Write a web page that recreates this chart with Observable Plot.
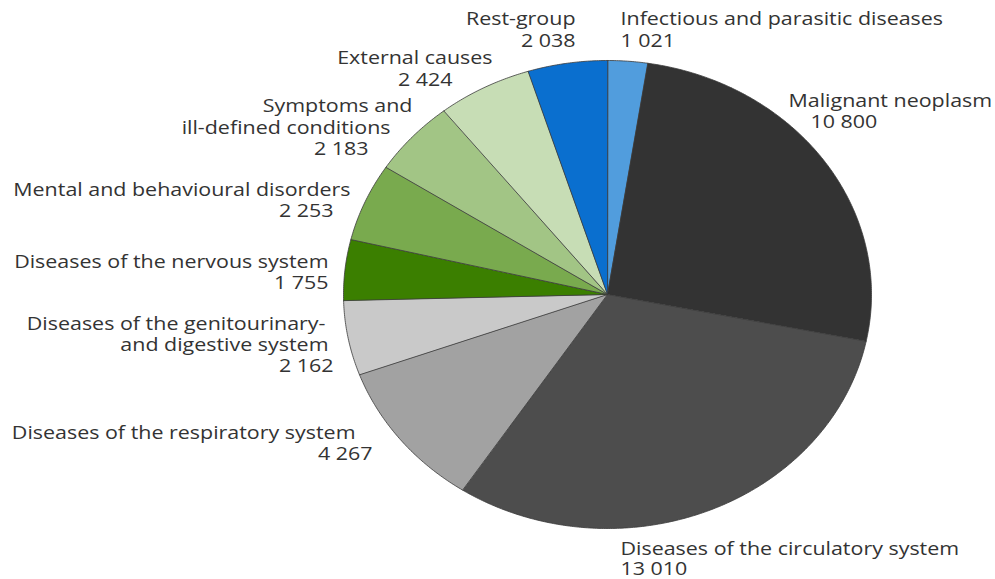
<!DOCTYPE html>
<html><head><meta charset="utf-8">
<script src="https://cdn.jsdelivr.net/npm/d3@7"></script>
<script src="https://cdn.jsdelivr.net/npm/@observablehq/plot@0.6"></script>
<style>body{margin:0;background:#fff;}</style>
</head><body><div id="chart"></div>
<script>
// ---- data ----
const categories = [
  "Infectious and parasitic diseases",
  "Malignant neoplasm",
  "Diseases of the circulatory system",
  "Diseases of the respiratory system",
  "Diseases of the genitourinary- and digestive system",
  "Diseases of the nervous system",
  "Mental and behavioural disorders",
  "Symptoms and ill-defined conditions",
  "External causes",
  "Rest-group"
];
const values = [1021, 10800, 13010, 4267, 2162, 1755, 2253, 2183, 2424, 2038];
const colors = ["#519ddd", "#333333", "#4d4d4d", "#a2a2a2", "#c9c9c9",
                "#3b7f00", "#79aa4e", "#a2c585", "#c7ddb5", "#0a6fcf"];
const labelText = [
  ["Infectious and parasitic diseases"],
  ["Malignant neoplasm"],
  ["Diseases of the circulatory system"],
  ["Diseases of the respiratory system"],
  ["Diseases of the genitourinary-", "and digestive system"],
  ["Diseases of the nervous system"],
  ["Mental and behavioural disorders"],
  ["Symptoms and", "ill-defined conditions"],
  ["External causes"],
  ["Rest-group"]
];

// ---- layout (label placement, pixels) ----
const cx = 607, cy = 294, rx = 264, ry = 234;
const stretch = rx / ry; // the chart is stretched horizontally
const labelLayout = [
  {anchor: "start", pos: [[620, 18], [620, 40]]},
  {anchor: "start", pos: [[788, 100], [810, 121]]},
  {anchor: "start", pos: [[620, 548], [620, 568]]},
  {anchor: "end",   pos: [[355, 432], [372, 453]]},
  {anchor: "end",   pos: [[325, 323], [328, 344], [333, 365]]},
  {anchor: "end",   pos: [[328, 261], [328, 282]]},
  {anchor: "end",   pos: [[350, 189], [333, 210]]},
  {anchor: "end",   pos: [[412, 105], [390, 127], [368, 148]]},
  {anchor: "end",   pos: [[492, 57], [452, 79]]},
  {anchor: "end",   pos: [[575, 18], [575, 40]]}
];

const fmt = v => d3.format(",")(v).replace(/,/g, "\u00a0");
const total = d3.sum(values);
let acc = 0;
const slices = categories.map((c, i) => {
  const a0 = acc / total * 2 * Math.PI;
  acc += values[i];
  const a1 = acc / total * 2 * Math.PI;
  return {c, a0, a1, color: colors[i]};
});
function slicePoints(s) {
  const pts = [{x: 0, y: 0}];
  const n = Math.max(2, Math.ceil((s.a1 - s.a0) / (Math.PI / 360)));
  for (let k = 0; k <= n; k++) {
    const a = s.a0 + (s.a1 - s.a0) * k / n;
    pts.push({x: Math.sin(a), y: Math.cos(a)});
  }
  return pts;
}

const labels = [];
categories.forEach((c, i) => {
  const lines = [...labelText[i], fmt(values[i])];
  lines.forEach((t, j) => {
    const [px, py] = labelLayout[i].pos[j];
    labels.push({text: t, anchor: labelLayout[i].anchor, x: (px - cx) / rx, y: (cy - py) / ry});
  });
});

const textOpts = {x: "x", y: "y", text: "text", fontFamily: "Open Sans", fontSize: 19, fill: "#333", lineAnchor: "middle"};

const chart = Plot.plot({
  width: 995, height: 579,
  margin: 0,
  x: {domain: [-1, 1], range: [cx - rx, cx + rx], axis: null},
  y: {domain: [-1, 1], range: [cy + ry, cy - ry], axis: null},
  style: {background: "#fff"},
  marks: [
    ...slices.map(s => Plot.line(slicePoints(s), {x: "x", y: "y", fill: s.color, stroke: "#3a3a3a", strokeWidth: 0.8, curve: "linear-closed"})),
    Plot.text(labels.filter(d => d.anchor === "start"), {...textOpts, textAnchor: "start"}),
    Plot.text(labels.filter(d => d.anchor === "end"), {...textOpts, textAnchor: "end"})
  ]
});
// match the horizontally stretched look of the reference glyphs
chart.querySelectorAll("text").forEach(t => {
  const x0 = parseFloat(t.getAttribute("x") || 0);
  const tr = t.getAttribute("transform") || "";
  t.setAttribute("transform", `${tr} translate(${x0},0) scale(${stretch},1) translate(${-x0},0)`);
});
document.getElementById("chart").append(chart);
</script>
</body></html>
